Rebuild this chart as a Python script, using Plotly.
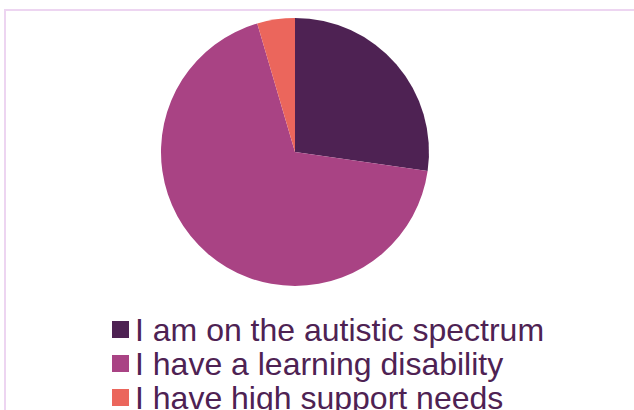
import plotly.graph_objects as go

# Survey responses
labels = [
    "I am on the autistic spectrum",
    "I have a learning disability",
    "I have high support needs",
]
counts = [6, 15, 1]
colors = ["#4E2253", "#A94384", "#EB665C"]

W, H = 634, 410
text_color = "#4E2253"

fig = go.Figure(
    go.Pie(
        labels=labels,
        values=counts,
        marker=dict(colors=colors, line=dict(width=0)),
        sort=False,
        direction="clockwise",
        rotation=0,
        textinfo="none",
        hoverinfo="label+percent",
        domain=dict(x=[161 / W, 429 / W], y=[1 - 286 / H, 1 - 18 / H]),
        showlegend=False,
    )
)

# Legend drawn as coloured squares with text beside them
shapes = [
    dict(
        type="rect", xref="paper", yref="paper",
        x0=5 / W, x1=1.02, y0=-0.02, y1=1 - 10 / H,
        line=dict(color="#EDD5F1", width=2), fillcolor="rgba(0,0,0,0)",
        layer="below",
    )
]
annotations = []
row0, step, sq = 321, 34, 17
for i, (lab, col) in enumerate(zip(labels, colors)):
    top = row0 + i * step
    shapes.append(
        dict(
            type="rect", xref="paper", yref="paper",
            x0=112 / W, x1=(112 + sq) / W,
            y0=1 - (top + sq) / H, y1=1 - top / H,
            line=dict(width=0), fillcolor=col,
        )
    )
    annotations.append(
        dict(
            text=lab, xref="paper", yref="paper",
            x=133 / W, y=1 - (top + sq / 2) / H,
            xanchor="left", yanchor="middle", showarrow=False,
            font=dict(family="Liberation Sans, Arial", size=32, color=text_color),
        )
    )

fig.update_layout(
    width=W, height=H,
    margin=dict(l=0, r=0, t=0, b=0),
    paper_bgcolor="white",
    plot_bgcolor="white",
    shapes=shapes,
    annotations=annotations,
)

fig.write_html("out.html")
